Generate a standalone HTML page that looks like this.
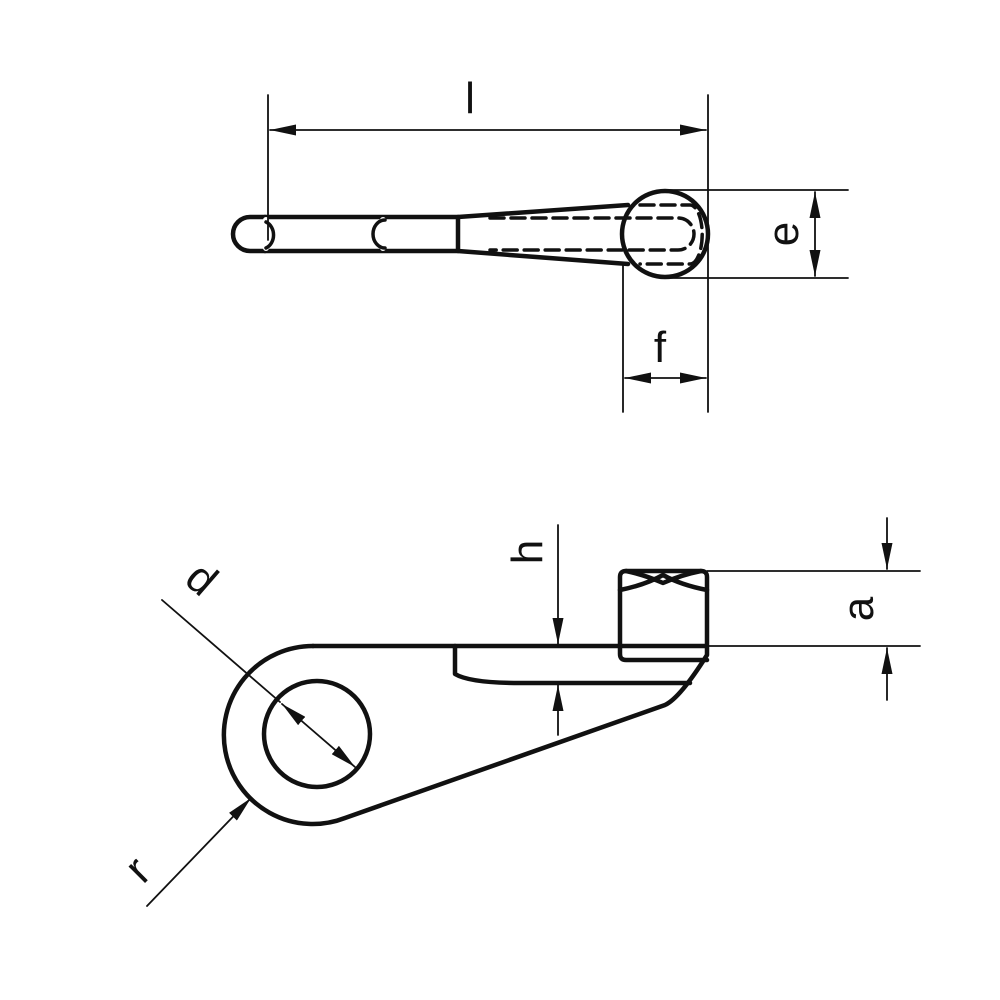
<!DOCTYPE html>
<html><head><style>html,body{margin:0;padding:0;background:#fff}svg{display:block}</style></head>
<body>
<svg width="1000" height="1000" viewBox="0 0 1000 1000" xmlns="http://www.w3.org/2000/svg">
<defs>
<marker id="ar" viewBox="0 0 10 10" refX="10" refY="5" markerWidth="26" markerHeight="11" markerUnits="userSpaceOnUse" orient="auto-start-reverse" preserveAspectRatio="none">
<path d="M0,0 L10,5 L0,10 Z" fill="#111"/></marker>
</defs>
<g fill="none" stroke="#111" stroke-linecap="round" stroke-linejoin="round">
<!-- top view -->
<g stroke-width="4.5">
<path d="M265,217 L250,217 A17,17 0 0 0 250,251 L265,251"/>
<path d="M265,217 L458,217 L458,251 L265,251"/>
<path d="M458,217 L628,205 M458,251 L628,264"/>
<circle cx="665" cy="234" r="43"/>
</g>
<g stroke="#fff" stroke-width="6"><path d="M266,220 L266,248 M383,220 L383,248"/></g>
<g stroke-width="3.5">
<path d="M266,222 A12,14 0 0 1 266,248" />
<path d="M385,220 A12,14 0 0 0 385,248"/>
</g>
<g stroke-width="3.5" stroke-dasharray="14,7">
<path d="M490,218 L678,218 A16,16 0 0 1 678,250 L490,250"/>
<path d="M640,205 L690,205 A12,29 0 0 1 690,264 L640,264"/>
</g>
<!-- dims top -->
<g stroke-width="1.8">
<path d="M268,95 L268,240 M708,95 L708,412 M623,265 L623,412 M665,190 L848,190 M665,278 L848,278"/>
<path d="M270,130 L706,130" marker-start="url(#ar)" marker-end="url(#ar)"/>
<path d="M815,192 L815,276" marker-start="url(#ar)" marker-end="url(#ar)"/>
<path d="M625,378 L706,378" marker-start="url(#ar)" marker-end="url(#ar)"/>
</g>
<!-- bottom view -->
<g stroke-width="4.5">
<path d="M313,646 L707,646"/>
<path d="M313,646 A89,89 0 1 0 345,818 L665,705 Q680,698 707,655 L707,577 Q707,571 701,571 L626,571 Q620,571 620,577 L620,654 Q620,660 626,660 L707,660"/>
<circle cx="317" cy="734" r="53"/>
<path d="M455,646 L455,674 Q470,683 520,683 L690,683"/>
<path d="M620,590 Q645,585 663,575 Q681,585 707,590"/>
<path d="M626,571 Q645,575 663,583 Q681,575 701,571"/>
</g>
<g stroke-width="1.8">
<path d="M558,525 L558,644" marker-end="url(#ar)"/>
<path d="M558,735 L558,685" marker-end="url(#ar)"/>
<path d="M707,571 L920,571 M707,646 L920,646"/>
<path d="M887,518 L887,569" marker-end="url(#ar)"/>
<path d="M887,700 L887,648" marker-end="url(#ar)"/>
<path d="M162,600 L280,702"/>
<path d="M282,704 L355,767" marker-start="url(#ar)" marker-end="url(#ar)"/>
<path d="M147,906 L251,798" marker-end="url(#ar)"/>
</g>
</g>
<g font-family="Liberation Sans, sans-serif" font-size="44" fill="#111" text-anchor="middle">
<text x="470" y="113">l</text>
<text x="660" y="362">f</text>
<text transform="translate(798,234) rotate(-90)">e</text>
<text transform="translate(542,552) rotate(-90)">h</text>
<text transform="translate(873,609) rotate(-90)">a</text>
<text transform="translate(192,590) rotate(41)">d</text>
<text transform="translate(148,880) rotate(-45)">r</text>
</g>
</svg>
</body></html>
